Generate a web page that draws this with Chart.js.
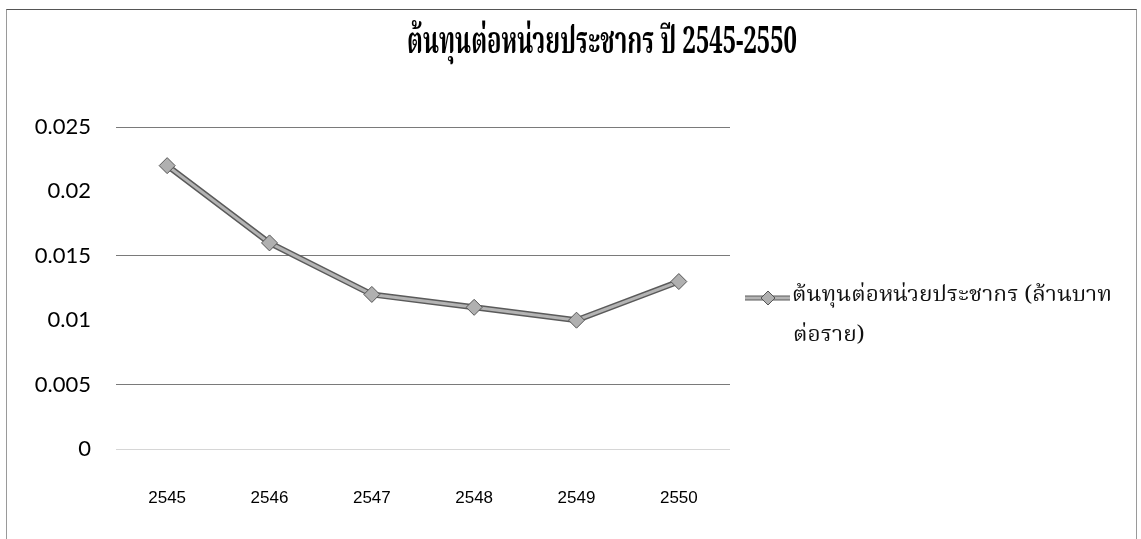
<!DOCTYPE html>
<html>
<head>
<meta charset="utf-8">
<script src="https://cdn.jsdelivr.net/npm/chart.js@4/dist/chart.umd.min.js"></script>
<style>
  html, body { margin: 0; padding: 0; background: #fff; overflow: hidden; }
  #wrap { position: relative; width: 1141px; height: 539px; }
  #frame {
    position: absolute; left: 6px; top: 9px; width: 1131px; height: 600px;
    border: 1px solid #9a9a9a; border-top-color: #555; box-sizing: border-box;
  }
  canvas { position: absolute; left: 0; top: 0; }
</style>
</head>
<body>
<div id="wrap">
  <div id="frame"></div>
  <canvas id="c" width="1141" height="539"></canvas>
</div>
<script>
// Cost per head of population, fiscal years 2545-2550 (B.E.)
const chartTitle = 'ต้นทุนต่อหน่วยประชากร ปี 2545-2550';
const categories = ['2545', '2546', '2547', '2548', '2549', '2550'];
const costPerCapita = [0.022, 0.016, 0.012, 0.011, 0.010, 0.013];
const seriesLabelLines = ['ต้นทุนต่อหน่วยประชากร (ล้านบาท', 'ต่อราย)'];
const yTickLabels = ['0', '0.005', '0.01', '0.015', '0.02', '0.025'];

const THAI_FONT = '"Noto Serif Thai", "Noto Sans Thai", "Loma", "Garuda", "Norasi", "Liberation Serif", serif';

// Draw text squeezed/stretched horizontally to a target width
function drawFitted(ctx, text, x, y, width, font, align) {
  ctx.save();
  ctx.font = font;
  const w = ctx.measureText(text).width;
  const sx = width / w;
  ctx.translate(x, y);
  ctx.scale(sx, 1);
  ctx.textAlign = align || 'left';
  ctx.textBaseline = 'middle';
  ctx.fillText(text, 0, 0);
  ctx.restore();
}

function drawDiamond(ctx, x, y, r, fill, stroke) {
  ctx.beginPath();
  ctx.moveTo(x, y - r);
  ctx.lineTo(x + r, y);
  ctx.lineTo(x, y + r);
  ctx.lineTo(x - r, y);
  ctx.closePath();
  ctx.fillStyle = fill;
  ctx.fill();
  ctx.lineWidth = 1;
  ctx.strokeStyle = stroke;
  ctx.stroke();
}

// Dark outline under the series line
const lineOutline = {
  id: 'lineOutline',
  beforeDatasetDraw(chart, args) {
    const line = args.meta.dataset;
    if (!line) return;
    const orig = line.options;
    line.options = Object.assign({}, orig, { borderColor: '#5a5a5a', borderWidth: 6 });
    line.draw(chart.ctx, chart.chartArea);
    line.options = orig;
  }
};

// Title and side legend
const decor = {
  id: 'decor',
  afterDraw(chart) {
    const ctx = chart.ctx;
    ctx.fillStyle = '#000';
    drawFitted(ctx, chartTitle, 602, 47, 390, 'bold 38px ' + THAI_FONT, 'center');

    const ds = chart.data.datasets[0];
    const ly = 298;
    ctx.save();
    ctx.lineCap = 'butt';
    ctx.strokeStyle = '#5a5a5a';
    ctx.lineWidth = 5;
    ctx.beginPath(); ctx.moveTo(745, ly); ctx.lineTo(790, ly); ctx.stroke();
    ctx.strokeStyle = ds.borderColor;
    ctx.lineWidth = 3;
    ctx.beginPath(); ctx.moveTo(745, ly); ctx.lineTo(790, ly); ctx.stroke();
    drawDiamond(ctx, 768, ly, 7, ds.pointBackgroundColor, ds.pointBorderColor);
    ctx.restore();

    ctx.fillStyle = '#111';
    drawFitted(ctx, seriesLabelLines[0], 792, ly, 320, '21px ' + THAI_FONT, 'left');
    ctx.save();
    ctx.font = '21px ' + THAI_FONT;
    const full = ctx.measureText(seriesLabelLines[0]).width;
    const part = ctx.measureText(seriesLabelLines[1]).width;
    ctx.restore();
    drawFitted(ctx, seriesLabelLines[1], 793, ly + 40, part * 320 / full, '21px ' + THAI_FONT, 'left');
  }
};

new Chart(document.getElementById('c'), {
  type: 'line',
  data: {
    labels: categories,
    datasets: [{
      label: seriesLabelLines.join(''),
      data: costPerCapita,
      borderColor: '#b4b4b4',
      borderWidth: 3,
      tension: 0,
      pointStyle: 'rectRot',
      pointRadius: 8,
      pointBackgroundColor: '#b0b0b0',
      pointBorderColor: '#555',
      pointBorderWidth: 1
    }]
  },
  options: {
    responsive: false,
    animation: false,
    layout: { padding: { left: 0, top: 127, right: 411, bottom: 0 } },
    plugins: {
      legend: { display: false },
      title: { display: false },
      tooltip: { enabled: false }
    },
    scales: {
      x: {
        offset: true,
        grid: { display: false, drawTicks: false },
        border: { display: false },
        afterFit(scale) { scale.height = 90; },
        ticks: {
          padding: 39,
          color: '#000',
          font: { family: '"Liberation Sans", Arial, sans-serif', size: 17 }
        }
      },
      y: {
        min: 0,
        max: 0.025,
        afterFit(scale) { scale.width = 116; },
        border: { display: false },
        grid: {
          drawTicks: false,
          color(ctx) {
            const i = ctx.index;
            if (i === 0) return '#d6d6d6';
            return (i % 2 === 1) ? '#7a7a7a' : 'rgba(0,0,0,0)';
          },
          lineWidth: 1
        },
        ticks: {
          stepSize: 0.005,
          padding: 25,
          color: '#000',
          font: { family: 'Lato, "Open Sans", sans-serif', size: 22 },
          callback(value, index) { return yTickLabels[index]; }
        }
      }
    }
  },
  plugins: [lineOutline, decor]
});
</script>
</body>
</html>
